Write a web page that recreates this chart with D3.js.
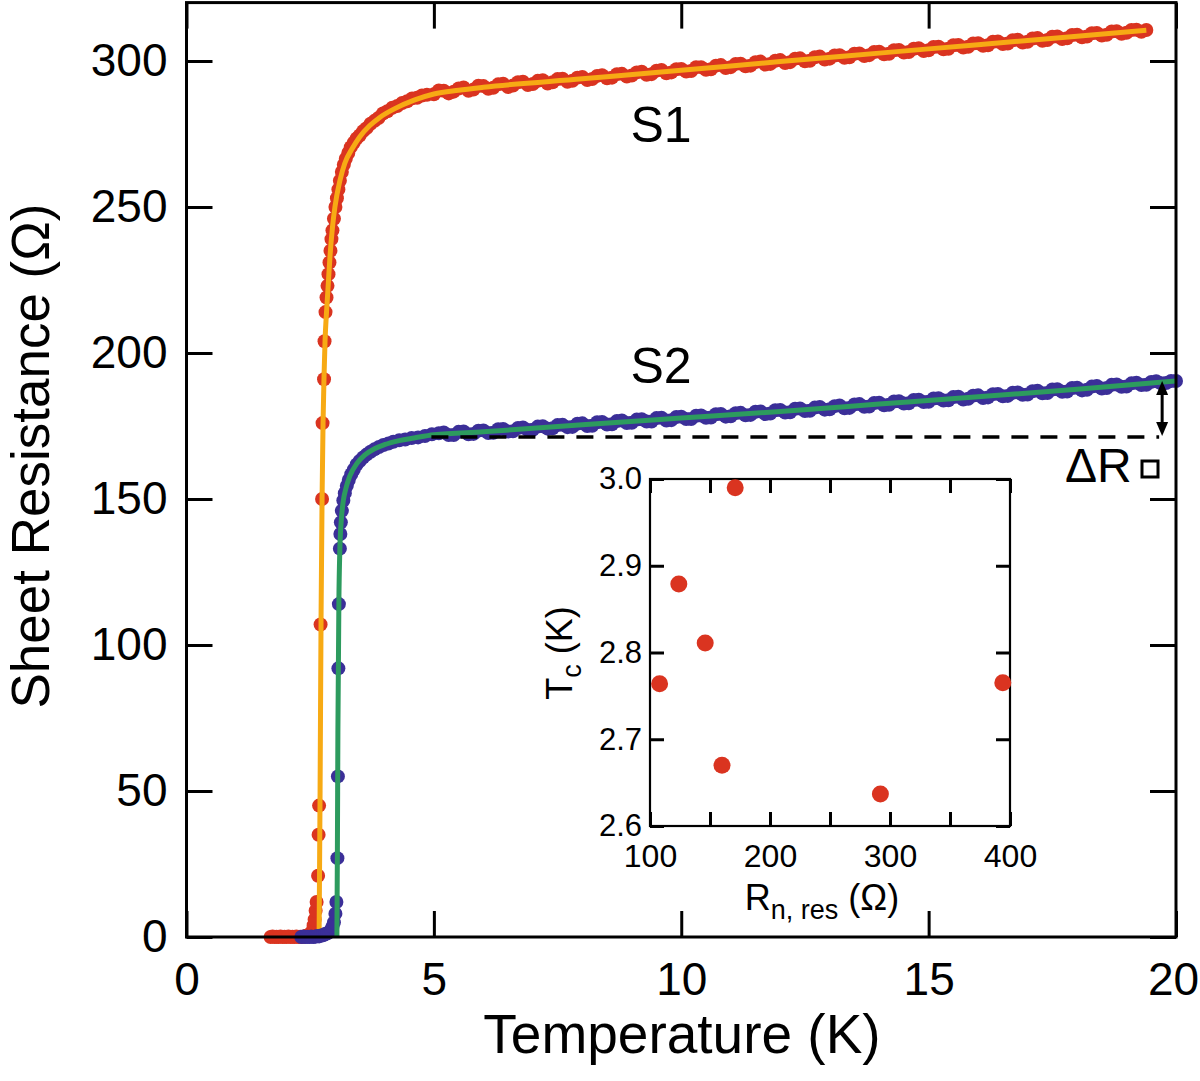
<!DOCTYPE html>
<html><head><meta charset="utf-8">
<script src="https://cdn.jsdelivr.net/npm/d3@7"></script>
<style>
body{margin:0;background:#fff}
text{font-family:"Liberation Sans",Arial,Helvetica,sans-serif;fill:#000}
</style>
</head><body>
<svg id="c" width="1200" height="1081"></svg>
<script>
// ---------- data ----------
const xTicks = [0, 5, 10, 15, 20];
const yTicks = [0, 50, 100, 150, 200, 250, 300];
const insetXTicks = [100, 150, 200, 250, 300, 350, 400];
const insetXLabels = [100, 200, 300, 400];
const insetYTicks = [2.6, 2.7, 2.8, 2.9, 3.0];

// S1 measured points [T (K), R (Ohm)]
const s1Dots = [
[1.70,0],[1.74,0.2],[1.78,0],[1.82,0.1],[1.86,0],[1.90,0.2],[1.94,0],[1.98,0.1],[2.02,0],[2.06,0.2],
[2.10,0],[2.14,0.1],[2.18,0],[2.22,0.2],[2.26,0],[2.30,0.1],[2.34,0],[2.38,0.2],[2.42,0.4],[2.46,0.6],
[2.50,1],[2.54,2],[2.57,4],[2.59,6],[2.61,9],[2.63,12],
[2.66,21],[2.67,35],[2.68,45],[2.71,107],[2.74,150],[2.75,176],[2.78,191],[2.79,204],[2.81,214],
[2.83,219],[2.85,223],[2.87,227],[2.89,231],[2.91,235],[2.93,239],[2.95,242],[2.98,246],[3.01,250],
[3.04,253],[3.07,256],[3.10,259],[3.14,262],[3.18,264.5],[3.22,266.5],[3.27,268.5],[3.32,270.5],
[3.38,272],[3.44,273.5],[3.50,274.5],[3.57,276],[3.64,277],[3.72,278.5],[3.80,279.5],[3.88,280.5],
[3.97,282],[4.06,282.8],[4.16,284],[4.26,284.6],[4.36,285.6],[4.46,286.2],[4.56,287.2],[4.66,287.4],
[4.76,288.2],[4.86,288.4],
[5.0,288.6],[5.2,289.8],[5.4,289.5],[5.6,290.9],[5.8,290.2],[6.0,291.4],[6.2,290.8],[6.4,292.2],
[6.6,291.6],[6.8,292.9],[7.0,292.1],[7.2,293.4],[7.4,292.7],[7.6,293.9],[7.8,293.2],[8.0,294.5],
[8.2,293.8],[8.4,295.1],[8.6,294.3],[8.8,295.6],[9.0,295.0],[9.2,296.3],[9.4,295.5],[9.6,296.9],
[9.8,296.1],[10.0,297.3],[10.2,296.6],[10.4,297.9],[10.6,297.2],[10.8,298.6],[11.0,297.9],[11.2,299.1],
[11.4,298.4],[11.6,299.8],[11.8,299.0],[12.0,300.3],[12.2,299.6],[12.4,300.9],[12.6,300.1],[12.8,301.5],
[13.0,300.8],[13.2,302.0],[13.4,301.3],[13.6,302.6],[13.8,302.0],[14.0,303.2],[14.2,302.5],[14.4,303.8],
[14.6,303.1],[14.8,304.4],[15.0,303.7],[15.2,304.9],[15.4,304.2],[15.6,305.5],[15.8,304.9],[16.0,306.1],
[16.2,305.4],[16.4,306.7],[16.6,306.0],[16.8,307.3],[17.0,306.6],[17.2,307.9],[17.4,307.2],[17.6,308.4],
[17.8,307.8],[18.0,309.0],[18.2,308.4],[18.4,309.6],[18.6,309.0],[18.8,310.2],[19.0,309.7],[19.2,310.7],
[19.4,310.6],
[5.1,289.9],[5.3,288.9],[5.5,290.6],[5.7,289.8],[5.9,291.5],[6.1,290.5],[6.3,292.0],[6.5,291.1],
[6.7,292.7],[6.9,291.8],[7.1,293.2],[7.3,292.3],[7.5,293.8],[7.7,292.9],[7.9,294.3],[8.1,293.5],
[8.3,294.9],[8.5,294.1],[8.7,295.5],[8.9,294.7],[9.1,296.1],[9.3,295.3],[9.5,296.7],[9.7,295.8],
[9.9,297.2],[10.1,296.4],[10.3,297.9],[10.5,297.0],[10.7,298.4],[10.9,297.6],[11.1,299.0],[11.3,298.2],
[11.5,299.6],[11.7,298.8],[11.9,300.1],[12.1,299.3],[12.3,300.8],[12.5,299.9],[12.7,301.3],[12.9,300.5],
[13.1,301.9],[13.3,301.1],[13.5,302.5],[13.7,301.7],[13.9,303.1],[14.1,302.3],[14.3,303.7],[14.5,302.9],
[14.7,304.2],[14.9,303.4],[15.1,304.8],[15.3,304.0],[15.5,305.4],[15.7,304.6],[15.9,306.0],[16.1,305.2],
[16.3,306.6],[16.5,305.8],[16.7,307.1],[16.9,306.3],[17.1,307.7],[17.3,306.9],[17.5,308.3],[17.7,307.5],
[17.9,308.9],[18.1,308.1],[18.3,309.5],[18.5,308.7],[18.7,310.1],[18.9,309.3],[19.1,310.6],[19.3,310.0]
];

// S1 fit curve
const s1Fit = [
[2.68,0],[2.70,50],[2.72,110],[2.74,150],[2.76,176],[2.78,192],[2.80,204],[2.83,214],[2.86,222],
[2.90,233],[2.95,243],[3.0,250],[3.1,259],[3.2,265],[3.35,270],[3.5,274],[3.7,277.8],[3.9,280.6],
[4.2,283.6],[4.6,286.6],[5.0,288.7],[5.5,290],[6,291],[8,293.9],[10,296.8],[12,299.8],[14,302.7],
[16,305.6],[18,308.5],[19.4,310.5]
];

// S2 measured points
const s2Dots = [
[2.32,0],[2.36,0.2],[2.40,0],[2.44,0.1],[2.48,0],[2.52,0.2],[2.56,0],[2.60,0.1],[2.64,0.3],[2.68,0.2],
[2.72,0.5],[2.76,0.6],[2.80,1],[2.84,1.2],[2.88,1.6],[2.92,2.4],[2.95,3.5],[2.98,5],[3.01,8],[3.03,12],
[3.05,27],[3.06,55],[3.07,92],[3.08,114],[3.10,133],[3.11,138],[3.12,142],[3.14,146],[3.17,149.5],
[3.20,152],[3.24,154.5],[3.28,156.5],[3.33,158.5],[3.38,160],[3.44,161.8],[3.50,163],[3.57,164.2],
[3.64,165.2],[3.72,166.2],[3.80,167],[3.89,167.8],[3.98,168.5],[4.08,169],[4.18,169.6],[4.30,170.1],
[4.42,170.4],[4.55,170.9],[4.68,171.1],[4.82,171.6],[4.96,172.2],
[5.1,172.5],[5.3,171.9],[5.5,173.0],[5.7,172.2],[5.9,173.4],[6.1,172.6],[6.3,173.9],[6.5,173.1],
[6.7,174.3],[6.9,173.6],[7.1,174.8],[7.3,174.1],[7.5,175.3],[7.7,174.6],[7.9,175.8],[8.1,175.0],
[8.3,176.3],[8.5,175.5],[8.7,176.7],[8.9,176.0],[9.1,177.2],[9.3,176.5],[9.5,177.7],[9.7,176.9],
[9.9,178.1],[10.1,177.4],[10.3,178.5],[10.5,177.8],[10.7,179.0],[10.9,178.2],[11.1,179.4],[11.3,178.7],
[11.5,179.9],[11.7,179.1],[11.9,180.4],[12.1,179.6],[12.3,180.9],[12.5,180.1],[12.7,181.3],[12.9,180.6],
[13.1,181.8],[13.3,181.1],[13.5,182.4],[13.7,181.6],[13.9,182.9],[14.1,182.1],[14.3,183.4],[14.5,182.7],
[14.7,183.9],[14.9,183.2],[15.1,184.4],[15.3,183.7],[15.5,184.9],[15.7,184.1],[15.9,185.4],[16.1,184.6],
[16.3,185.9],[16.5,185.2],[16.7,186.4],[16.9,185.7],[17.1,186.9],[17.3,186.2],[17.5,187.5],[17.7,186.7],
[17.9,188.0],[18.1,187.2],[18.3,188.5],[18.5,187.8],[18.7,189.1],[18.9,188.4],[19.1,189.6],[19.3,189.0],
[19.5,190.1],[19.7,189.6],[19.9,190.4],[20.0,190.4],
[5.2,172.8],[5.4,171.9],[5.6,173.1],[5.8,172.3],[6.0,173.5],[6.2,172.7],[6.4,174.0],[6.6,173.2],
[6.8,174.5],[7.0,173.7],[7.2,174.9],[7.4,174.2],[7.6,175.4],[7.8,174.7],[8.0,175.9],[8.2,175.1],
[8.4,176.4],[8.6,175.6],[8.8,176.9],[9.0,176.1],[9.2,177.3],[9.4,176.5],[9.6,177.8],[9.8,177.0],
[10.0,178.2],[10.2,177.4],[10.4,178.6],[10.6,177.9],[10.8,179.1],[11.0,178.3],[11.2,179.5],[11.4,178.8],
[11.6,180.0],[11.8,179.3],[12.0,180.5],[12.2,179.7],[12.4,181.0],[12.6,180.2],[12.8,181.5],[13.0,180.7],
[13.2,182.0],[13.4,181.2],[13.6,182.5],[13.8,181.7],[14.0,183.0],[14.2,182.3],[14.4,183.5],[14.6,182.8],
[14.8,184.0],[15.0,183.3],[15.2,184.5],[15.4,183.8],[15.6,185.0],[15.8,184.3],[16.0,185.5],[16.2,184.8],
[16.4,186.0],[16.6,185.3],[16.8,186.5],[17.0,185.8],[17.2,187.1],[17.4,186.3],[17.6,187.6],[17.8,186.8],
[18.0,188.1],[18.2,187.4],[18.4,188.7],[18.6,188.0],[18.8,189.2],[19.0,188.5],[19.2,189.8],[19.4,189.1],
[19.6,190.3],[19.8,189.7]
];

// S2 fit curve
const s2Fit = [
[3.04,0],[3.05,30],[3.06,70],[3.08,115],[3.10,133],[3.13,143],[3.17,149.5],[3.22,153.5],[3.3,157.8],
[3.45,162.3],[3.6,165],[3.8,167.2],[4.0,168.6],[4.3,170],[4.6,170.9],[5,172],[6,173],[8,175.4],
[10,177.7],[12,180],[14,182.5],[16,185],[18,187.6],[20,190.4]
];

// Delta R annotation
const dRLevel = 171.2;
const dRStartT = 4.95;
const dRArrowT = 19.72;
const dRTop = 190.4;

// Inset: Tc vs R_n,res
const insetR = [108, 124, 146, 171, 160, 292, 394];
const insetTc = [2.764, 2.879, 2.811, 2.990, 2.670, 2.637, 2.765];

// ---------- drawing ----------
const svg = d3.select('#c');
const x = d3.scaleLinear().domain([0, 20]).range([186.5, 1176]);
const y = d3.scaleLinear().domain([0, 320]).range([937, 2.6]);

const RED = '#da3420', ORANGE = '#f7aa14', BLUE = '#3b2f98', GREEN = '#2d9b5e';

function styleAxis(g, fs) {
  g.select('.domain').remove();
  g.selectAll('.tick line').attr('stroke', '#000').attr('stroke-width', 3);
  g.selectAll('.tick text').attr('font-size', fs).attr('fill', '#000')
   .style('font-family', '"Liberation Sans",Arial,sans-serif');
}

// axes (inward ticks on all four sides)
svg.append('g').attr('transform', `translate(0,${y(0)})`)
  .call(d3.axisBottom(x).tickValues(xTicks).tickSize(-26).tickPadding(25).tickFormat(d3.format('d')))
  .call(g => styleAxis(g, 46))
  .call(g => g.selectAll('.tick text').filter(d => d === 20).attr('dx', -3));
svg.append('g').attr('transform', `translate(0,${y(320)})`)
  .call(d3.axisTop(x).tickValues(xTicks).tickSize(-26).tickFormat(''))
  .call(g => styleAxis(g, 46));
svg.append('g').attr('transform', `translate(${x(0)},0)`)
  .call(d3.axisLeft(y).tickValues(yTicks).tickSize(-26).tickPadding(19).tickFormat(d3.format('d')))
  .call(g => styleAxis(g, 46));
svg.append('g').attr('transform', `translate(${x(20)},0)`)
  .call(d3.axisRight(y).tickValues(yTicks).tickSize(-26).tickFormat(''))
  .call(g => styleAxis(g, 46));

// data
const line = d3.line().x(d => x(d[0])).y(d => y(d[1])).curve(d3.curveMonotoneX);
const dot = 7;

svg.append('g').selectAll('circle').data(s1Dots).join('circle')
  .attr('cx', d => x(d[0])).attr('cy', d => y(d[1])).attr('r', dot).attr('fill', RED);
svg.append('path').datum(s1Fit).attr('d', line).attr('fill', 'none')
  .attr('stroke', ORANGE).attr('stroke-width', 5);
svg.append('g').selectAll('circle').data(s2Dots).join('circle')
  .attr('cx', d => x(d[0])).attr('cy', d => y(d[1])).attr('r', dot).attr('fill', BLUE);
svg.append('path').datum(s2Fit).attr('d', line).attr('fill', 'none')
  .attr('stroke', GREEN).attr('stroke-width', 5);

// dashed reference line and double arrow
svg.append('line').attr('x1', x(dRStartT)).attr('x2', x(dRArrowT) - 3)
  .attr('y1', y(dRLevel)).attr('y2', y(dRLevel))
  .attr('stroke', '#000').attr('stroke-width', 3.5).attr('stroke-dasharray', '17,12');
const ax = x(dRArrowT), ayT = y(dRTop), ayB = y(dRLevel) - 1;
svg.append('line').attr('x1', ax).attr('x2', ax).attr('y1', ayT + 8).attr('y2', ayB - 8)
  .attr('stroke', '#000').attr('stroke-width', 3);
svg.append('path').attr('d', `M${ax},${ayT} L${ax - 6},${ayT + 14} L${ax + 6},${ayT + 14} Z`).attr('fill', '#000');
svg.append('path').attr('d', `M${ax},${ayB} L${ax - 6},${ayB - 14} L${ax + 6},${ayB - 14} Z`).attr('fill', '#000');

svg.append('text').attr('x', 1065).attr('y', 482).attr('font-size', 48).text('ΔR');
// sheet-resistance "square" symbol
svg.append('rect').attr('x', 1142).attr('y', 461).attr('width', 16).attr('height', 16)
  .attr('fill', 'none').attr('stroke', '#000').attr('stroke-width', 3);

// frame
svg.append('rect').attr('x', x(0)).attr('y', y(320)).attr('width', x(20) - x(0)).attr('height', y(0) - y(320))
  .attr('fill', 'none').attr('stroke', '#000').attr('stroke-width', 3);

// labels
svg.append('text').attr('x', 661).attr('y', 142).attr('text-anchor', 'middle').attr('font-size', 50).text('S1');
svg.append('text').attr('x', 661).attr('y', 383).attr('text-anchor', 'middle').attr('font-size', 50).text('S2');

svg.append('text').attr('x', 682).attr('y', 1053).attr('text-anchor', 'middle').attr('font-size', 55).text('Temperature (K)');
svg.append('text').attr('transform', 'translate(49,456) rotate(-90)').attr('text-anchor', 'middle')
  .attr('font-size', 53).text('Sheet Resistance (Ω)');

// ---------- inset ----------
const ix = d3.scaleLinear().domain([100, 400]).range([650, 1010]);
const iy = d3.scaleLinear().domain([2.6, 3.0]).range([826, 479]);

svg.append('rect').attr('x', 650).attr('y', 479).attr('width', 360).attr('height', 347).attr('fill', '#fff');

svg.append('g').attr('transform', `translate(0,${iy(2.6)})`)
  .call(d3.axisBottom(ix).tickValues(insetXTicks).tickSize(-14).tickPadding(18)
    .tickFormat(d => insetXLabels.includes(d) ? d : ''))
  .call(g => styleAxis(g, 32));
svg.append('g').attr('transform', `translate(0,${iy(3.0)})`)
  .call(d3.axisTop(ix).tickValues(insetXTicks).tickSize(-14).tickFormat(''))
  .call(g => styleAxis(g, 32));
svg.append('g').attr('transform', `translate(${ix(100)},0)`)
  .call(d3.axisLeft(iy).tickValues(insetYTicks).tickSize(-14).tickPadding(8).tickFormat(d3.format('.1f')))
  .call(g => styleAxis(g, 31));
svg.append('g').attr('transform', `translate(${ix(400)},0)`)
  .call(d3.axisRight(iy).tickValues(insetYTicks).tickSize(-14).tickFormat(''))
  .call(g => styleAxis(g, 31));

svg.append('rect').attr('x', 650).attr('y', 479).attr('width', 360).attr('height', 347)
  .attr('fill', 'none').attr('stroke', '#000').attr('stroke-width', 2.2);

svg.append('g').selectAll('circle').data(insetR).join('circle')
  .attr('cx', d => ix(d)).attr('cy', (d, i) => iy(insetTc[i])).attr('r', 8.5).attr('fill', RED);

const itx = svg.append('text').attr('x', 822).attr('y', 910).attr('text-anchor', 'middle').attr('font-size', 36);
itx.append('tspan').text('R');
itx.append('tspan').attr('font-size', 27).attr('dy', 9).text('n, res');
itx.append('tspan').attr('dy', -9).text(' (Ω)');

const ity = svg.append('text').attr('transform', 'translate(572,653) rotate(-90)').attr('text-anchor', 'middle').attr('font-size', 36);
ity.append('tspan').text('T');
ity.append('tspan').attr('font-size', 27).attr('dy', 9).text('c');
ity.append('tspan').attr('dy', -9).text(' (K)');
</script>
</body></html>
